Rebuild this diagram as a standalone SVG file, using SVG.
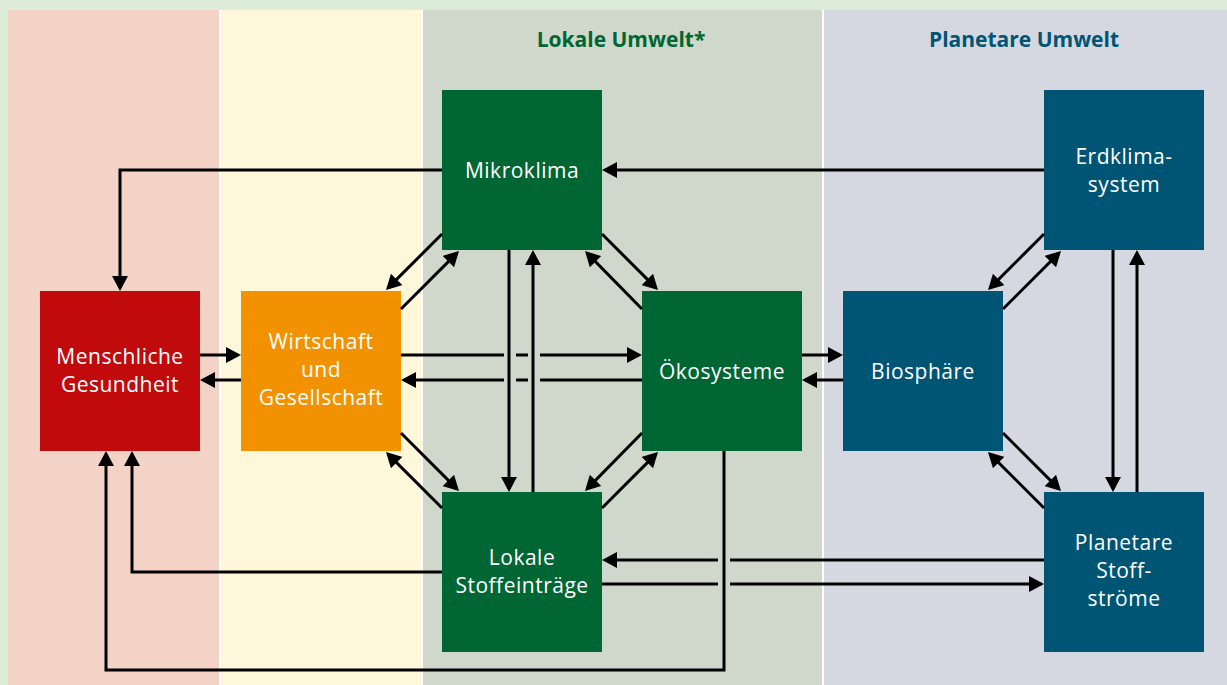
<svg xmlns="http://www.w3.org/2000/svg" width="1227" height="685" viewBox="0 0 1227 685">
  <defs>
    <style>
      .node-label { font-family: "Open Sans", "Liberation Sans", sans-serif; font-size: 21px; fill: #ffffff; text-anchor: middle; letter-spacing: 0.5px; }
      .zone-title { font-family: "Open Sans", "Liberation Sans", sans-serif; font-size: 21px; font-weight: 700; text-anchor: middle; }
      .link { fill: none; stroke: #000000; stroke-width: 3; }
      .arrow { marker-end: url(#head); }
    </style>
    <marker id="head" markerUnits="userSpaceOnUse" markerWidth="15" markerHeight="16" refX="12" refY="8" orient="auto">
      <path d="M0,0 L15,8 L0,16 Z" fill="#000000"/>
    </marker>
  </defs>

  <!-- background and zones -->
  <g id="zones">
    <rect x="0" y="0" width="1227" height="685" fill="#DDEBD9"/>
    <rect x="8" y="10" width="1219" height="675" fill="#FFFFFF"/>
    <rect x="8" y="10" width="211" height="675" fill="#F3D3C5"/>
    <rect x="221" y="10" width="200" height="675" fill="#FEF7DA"/>
    <rect x="423" y="10" width="399" height="675" fill="#D0D8CC"/>
    <rect x="824" y="10" width="403" height="675" fill="#D5D8E0"/>
    <text class="zone-title" x="621" y="47" fill="#006633">Lokale Umwelt*</text>
    <text class="zone-title" x="1024" y="47" fill="#005574">Planetare Umwelt</text>
  </g>

  <!-- nodes -->
  <g id="menschliche-gesundheit">
    <rect x="40" y="291" width="160" height="160" fill="#C00A0B"/>
    <text class="node-label" x="120" y="364">Menschliche</text>
    <text class="node-label" x="120" y="392">Gesundheit</text>
  </g>
  <g id="wirtschaft-gesellschaft">
    <rect x="241" y="291" width="160" height="160" fill="#F39200"/>
    <text class="node-label" x="321" y="349">Wirtschaft</text>
    <text class="node-label" x="321" y="377">und</text>
    <text class="node-label" x="321" y="405">Gesellschaft</text>
  </g>
  <g id="mikroklima">
    <rect x="442" y="90" width="160" height="160" fill="#006633"/>
    <text class="node-label" x="522" y="178">Mikroklima</text>
  </g>
  <g id="oekosysteme">
    <rect x="642" y="291" width="160" height="160" fill="#006633"/>
    <text class="node-label" x="722" y="379">Ökosysteme</text>
  </g>
  <g id="lokale-stoffeintraege">
    <rect x="442" y="492" width="160" height="160" fill="#006633"/>
    <text class="node-label" x="522" y="565">Lokale</text>
    <text class="node-label" x="522" y="593">Stoffeinträge</text>
  </g>
  <g id="biosphaere">
    <rect x="843" y="291" width="160" height="160" fill="#005574"/>
    <text class="node-label" x="923" y="379">Biosphäre</text>
  </g>
  <g id="erdklimasystem">
    <rect x="1044" y="90" width="160" height="160" fill="#005574"/>
    <text class="node-label" x="1124" y="164">Erdklima-</text>
    <text class="node-label" x="1124" y="192">system</text>
  </g>
  <g id="planetare-stoffstroeme">
    <rect x="1044" y="492" width="160" height="160" fill="#005574"/>
    <text class="node-label" x="1124" y="550">Planetare</text>
    <text class="node-label" x="1124" y="578">Stoff-</text>
    <text class="node-label" x="1124" y="606">ströme</text>
  </g>

  <!-- connectors -->
  <g id="connectors">
    <!-- Gesundheit <-> Wirtschaft -->
    <path class="link arrow" d="M200 355 H238"/>
    <path class="link arrow" d="M241 380 H203"/>
    <!-- Wirtschaft <-> Ökosysteme (broken where the verticals pass) -->
    <path class="link" d="M401 355 H504 M516 355 H528"/>
    <path class="link arrow" d="M540 355 H639"/>
    <path class="link" d="M642 380 H540 M528 380 H516"/>
    <path class="link arrow" d="M504 380 H404"/>
    <!-- Ökosysteme <-> Biosphäre -->
    <path class="link arrow" d="M802 355 H840"/>
    <path class="link arrow" d="M843 380 H805"/>
    <!-- Erdklima -> Mikroklima -> Gesundheit -->
    <path class="link arrow" d="M1044 170 H605"/>
    <path class="link arrow" d="M442 170 H120 V288"/>
    <!-- Mikroklima <-> Stoffeinträge -->
    <path class="link arrow" d="M509 250 V489"/>
    <path class="link arrow" d="M533 492 V253"/>
    <!-- Erdklima <-> Stoffströme -->
    <path class="link arrow" d="M1113 250 V489"/>
    <path class="link arrow" d="M1137 492 V253"/>
    <!-- Stoffströme <-> Stoffeinträge -->
    <path class="link" d="M1044 560 H730"/>
    <path class="link arrow" d="M718 560 H605"/>
    <path class="link" d="M602 584 H718"/>
    <path class="link arrow" d="M730 584 H1041"/>
    <!-- into Gesundheit from below -->
    <path class="link arrow" d="M442 572 H132 V454"/>
    <path class="link arrow" d="M724 451 V670 H106 V454"/>
    <!-- diagonals, local zone -->
    <path class="link arrow" d="M442 234 L388.1 287.9"/>
    <path class="link arrow" d="M401 309 L456.9 253.1"/>
    <path class="link arrow" d="M602 234 L655.9 287.9"/>
    <path class="link arrow" d="M642 309 L587.1 253.1"/>
    <path class="link arrow" d="M401 433 L456.9 488.9"/>
    <path class="link arrow" d="M442 508 L388.1 454.1"/>
    <path class="link arrow" d="M602 508 L655.9 454.1"/>
    <path class="link arrow" d="M642 433 L587.1 488.9"/>
    <!-- diagonals, planetary zone -->
    <path class="link arrow" d="M1044 234 L990.1 287.9"/>
    <path class="link arrow" d="M1003 309 L1058.9 253.1"/>
    <path class="link arrow" d="M1003 433 L1058.9 488.9"/>
    <path class="link arrow" d="M1044 508 L990.1 454.1"/>
  </g>
</svg>
